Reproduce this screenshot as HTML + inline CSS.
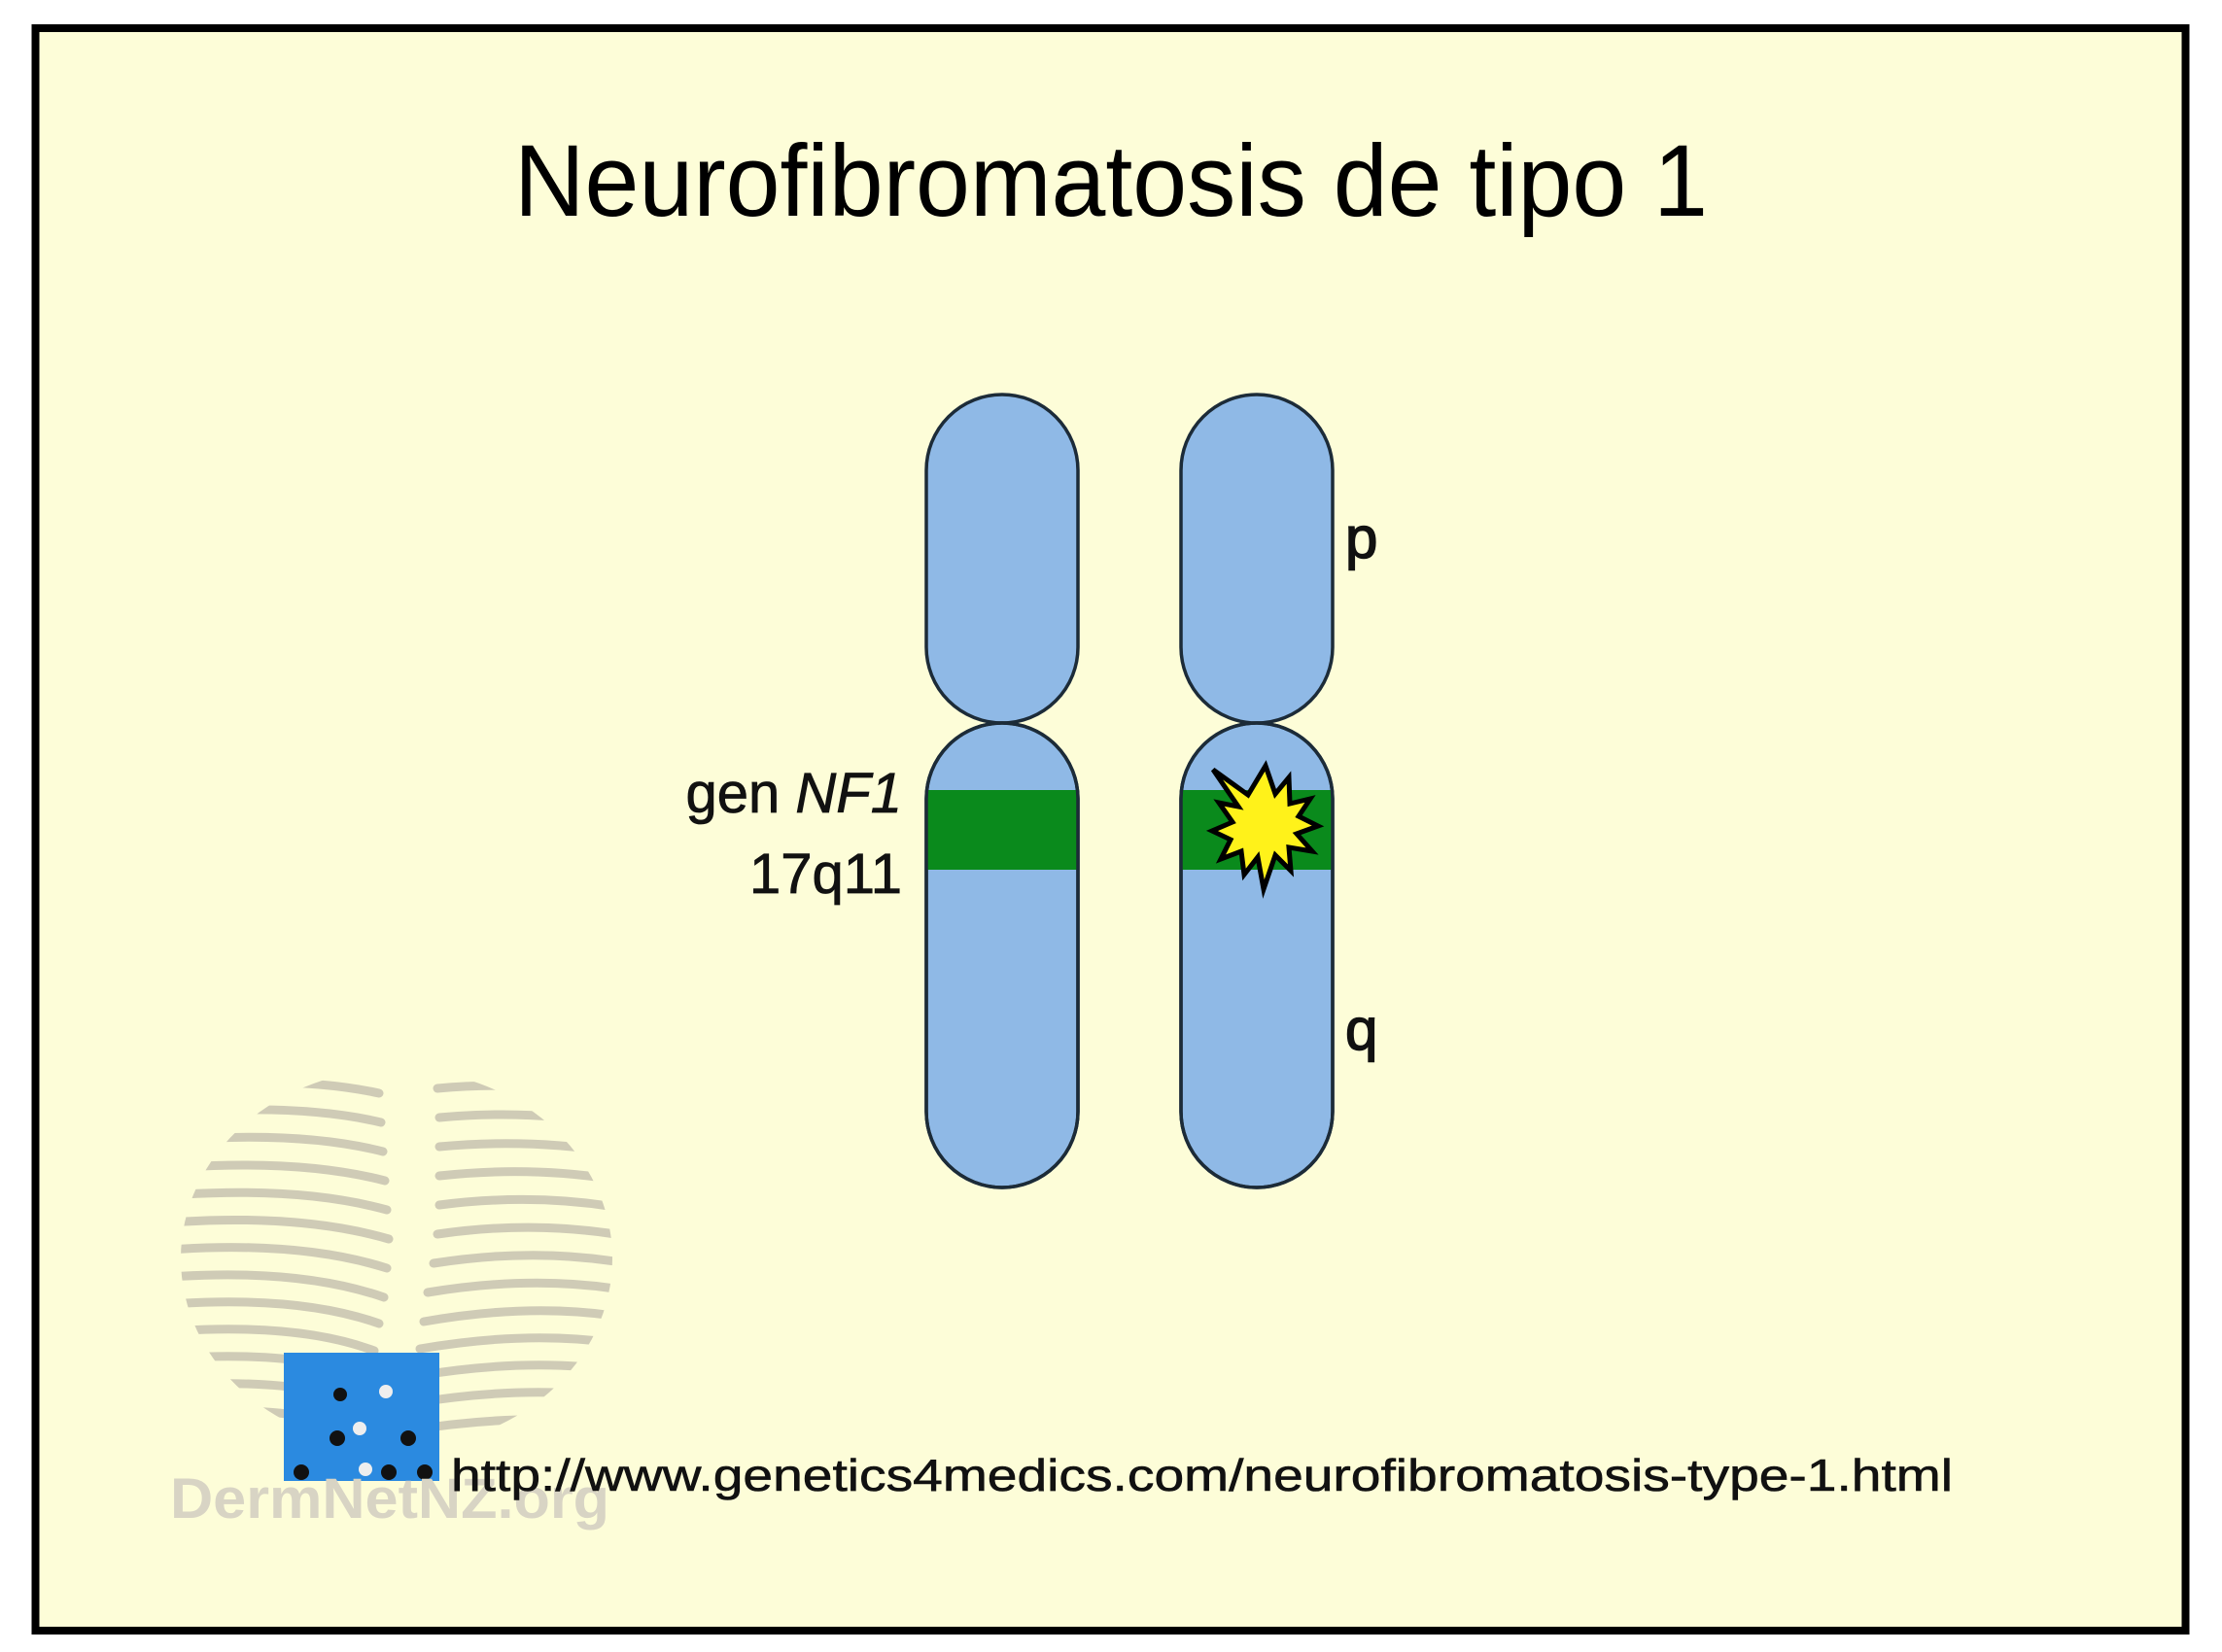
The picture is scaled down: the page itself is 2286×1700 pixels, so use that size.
<!DOCTYPE html>
<html><head><meta charset="utf-8"><style>
html,body{margin:0;padding:0;background:#fff;}
svg{display:block;}
</style></head><body>
<svg width="2286" height="1700" viewBox="0 0 2286 1700" xmlns="http://www.w3.org/2000/svg">
<rect x="0" y="0" width="2286" height="1700" fill="#ffffff"/>
<rect x="36.5" y="29" width="2212" height="1649" fill="#fdfdd8" stroke="#000" stroke-width="8"/>

<text x="529" y="222" font-family="Liberation Sans, sans-serif" font-size="105" fill="#000" textLength="1228" lengthAdjust="spacingAndGlyphs">Neurofibromatosis de tipo 1</text>

<defs>
<clipPath id="globe"><ellipse cx="408" cy="1295" rx="222" ry="195"/></clipPath>
<clipPath id="lowL"><path d="M953,822 A78,78 0 0 1 1109,822 L1109,1144 A78,78 0 0 1 953,1144 Z"/></clipPath>
<clipPath id="lowR"><path d="M1215,822 A78,78 0 0 1 1371,822 L1371,1144 A78,78 0 0 1 1215,1144 Z"/></clipPath>
</defs>

<g clip-path="url(#globe)" stroke="#cfcbb6" stroke-width="9" fill="none" stroke-linecap="round">
<path d="M150,1120 Q300,1105 390,1125 M450,1120 Q560,1110 660,1135"/>
<path d="M150,1148 Q300,1133 392,1155 M452,1150 Q560,1140 660,1163"/>
<path d="M150,1176 Q300,1161 394,1185 M452,1180 Q560,1170 660,1191"/>
<path d="M150,1204 Q300,1190 396,1215 M452,1210 Q560,1198 660,1219"/>
<path d="M150,1232 Q300,1218 398,1245 M452,1240 Q560,1226 660,1247"/>
<path d="M150,1260 Q300,1246 400,1275 M450,1270 Q560,1254 660,1275"/>
<path d="M150,1288 Q300,1274 398,1305 M446,1300 Q560,1282 660,1303"/>
<path d="M150,1316 Q300,1302 395,1335 M440,1330 Q560,1310 660,1331"/>
<path d="M150,1344 Q300,1330 390,1362 M436,1360 Q560,1338 660,1359"/>
<path d="M150,1372 Q300,1358 385,1390 M432,1388 Q560,1366 660,1387"/>
<path d="M150,1400 Q300,1386 380,1418 M428,1416 Q560,1394 660,1415"/>
<path d="M150,1428 Q300,1414 375,1446 M424,1444 Q560,1422 660,1443"/>
<path d="M150,1456 Q300,1442 370,1474 M420,1472 Q560,1450 660,1471"/>
<path d="M150,1484 Q300,1470 365,1500 M416,1500 Q560,1478 660,1499"/>
</g>
<rect x="292" y="1392" width="160" height="132" fill="#2b8ae0"/>
<g fill="#111"><circle cx="347" cy="1480" r="8"/><circle cx="420" cy="1480" r="8"/><circle cx="310" cy="1515" r="8"/><circle cx="400" cy="1515" r="8"/><circle cx="437" cy="1515" r="8"/><circle cx="350" cy="1435" r="7"/></g>
<g fill="#eee"><circle cx="397" cy="1432" r="7"/><circle cx="370" cy="1470" r="7"/><circle cx="376" cy="1512" r="7"/></g>
<text x="175" y="1562" font-family="Liberation Sans, sans-serif" font-size="58" font-weight="bold" fill="#d8d4c4" textLength="452" lengthAdjust="spacingAndGlyphs">DermNetNZ.org</text>

<g stroke="#1c2b38" stroke-width="3.5" fill="#8fb9e6">
<path d="M953,484 A78,78 0 0 1 1109,484 L1109,666 A78,78 0 0 1 953,666 Z"/>
<path d="M953,822 A78,78 0 0 1 1109,822 L1109,1144 A78,78 0 0 1 953,1144 Z"/>
<path d="M1215,484 A78,78 0 0 1 1371,484 L1371,666 A78,78 0 0 1 1215,666 Z"/>
<path d="M1215,822 A78,78 0 0 1 1371,822 L1371,1144 A78,78 0 0 1 1215,1144 Z"/>
</g>
<rect x="950" y="813" width="162" height="82" fill="#0a8a1c" clip-path="url(#lowL)"/>
<rect x="1212" y="813" width="162" height="82" fill="#0a8a1c" clip-path="url(#lowR)"/>
<g stroke="#1c2b38" stroke-width="3.5" fill="none">
<path d="M953,822 A78,78 0 0 1 1109,822 L1109,1144 A78,78 0 0 1 953,1144 Z"/>
<path d="M1215,822 A78,78 0 0 1 1371,822 L1371,1144 A78,78 0 0 1 1215,1144 Z"/>
</g>

<polygon fill="#fff21a" stroke="#000" stroke-width="5" stroke-linejoin="miter"
points="1302,788 1312,817 1326,800 1327,827 1348,822 1336,840 1356,850 1334,858 1350,876 1326,872 1328,896 1312,880 1300,915 1294,882 1280,900 1277,876 1256,884 1266,864 1247,855 1268,846 1254,826 1274,830 1248,792 1284,818"/>

<g font-family="Liberation Sans, sans-serif" fill="#111" font-size="58" stroke="#111" stroke-width="0.8">
<text x="928" y="836" text-anchor="end">gen <tspan font-style="italic">NF1</tspan></text>
<text x="928" y="919" text-anchor="end">17q11</text>
<text x="1384" y="574" font-size="60" stroke-width="1.5">p</text>
<text x="1384" y="1080" font-size="60" stroke-width="1.5">q</text>
</g>

<text x="464" y="1534" font-family="Liberation Sans, sans-serif" font-size="46" fill="#111" stroke="#111" stroke-width="0.6" textLength="1545" lengthAdjust="spacingAndGlyphs">http://www.genetics4medics.com/neurofibromatosis-type-1.html</text>
</svg>
</body></html>
